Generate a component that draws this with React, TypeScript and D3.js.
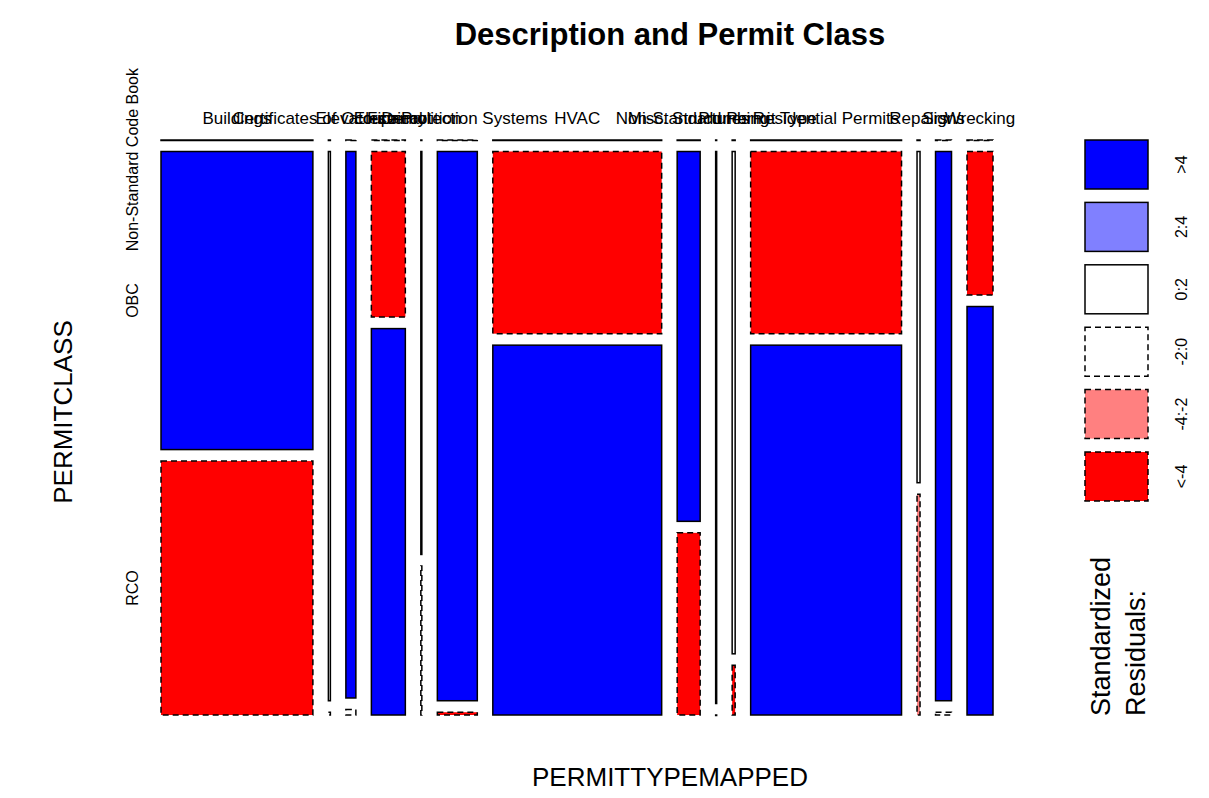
import * as d3 from 'd3';

const categories = [
  'Buildings', 'Certificates of Occupancy', 'Elevators', 'Electrical', 'Demolition',
  'Fire Protection Systems', 'HVAC', 'Misc. Structures', 'Non-Standard Permit Type',
  'Plumbing', 'Residential Permits', 'Repairs', 'Signs', 'Wrecking',
];
const classes = ['Non-Standard Code Book', 'OBC', 'RCO'];
const colTotals = [152, 2, 10, 34, 1, 40, 169, 23, 1, 3, 151, 3, 16, 26];
const nscbShare = [0, 0, 0, 0, 0, 0, 0, 0, 0, 0, 0, 0, 0, 0];
const obcShare = [0.54, 0.995, 0.99, 0.3, 0.73, 0.995, 0.33, 0.67, 1, 0.91, 0.33, 0.6, 0.995, 0.26];
const nscbRes = ['0:2', '0:2', '-2:0', '-2:0', '0:2', '-2:0', '0:2', '0:2', '-2:0', '0:2', '0:2', '0:2', '-2:0', '-2:0'];
const obcRes = ['>4', '0:2', '>4', '<-4', '0:2', '>4', '<-4', '>4', '0:2', '0:2', '<-4', '0:2', '>4', '<-4'];
const rcoRes = ['<-4', '-2:0', '-2:0', '>4', '-2:0', '<-4', '>4', '<-4', '-2:0', '<-4', '>4', '-4:-2', '-2:0', '>4'];
const legendKeys = ['>4', '2:4', '0:2', '-2:0', '-4:-2', '<-4'];

const fillOf: Record<string, string> = {
  '>4': '#0000FF', '2:4': '#8080FF', '0:2': '#FFFFFF', '-2:0': '#FFFFFF', '-4:-2': '#FF8080', '<-4': '#FF0000',
};
const dashed = (k: string) => k.startsWith('-') || k.startsWith('<');

export default function App() {
  const W = 1209, H = 798;
  const x0 = 161, x1 = 993, y0 = 140, y1 = 715;
  const gap = 15.5, vgap = 11.5;
  const total = d3.sum(colTotals);
  const px = d3.scaleLinear([0, total], [0, x1 - x0 - gap * (colTotals.length - 1)]);
  const ph = d3.scaleLinear([0, 1], [0, y1 - y0 - vgap * 2]);

  const cells: any[] = [];
  let cx = x0;
  colTotals.forEach((t, i) => {
    const w = px(t);
    const shares = [nscbShare[i], obcShare[i], 1 - obcShare[i] - nscbShare[i]];
    const res = [nscbRes[i], obcRes[i], rcoRes[i]];
    let cy = y0;
    shares.forEach((s, j) => {
      const h = ph(s);
      cells.push({ x: cx, y: cy, w, h, k: res[j], key: `${i}-${j}` });
      cy += h + vgap;
    });
    cells.push({ label: categories[i], x: cx + w / 2, key: `l${i}` });
    cx += w + gap;
  });

  const rowCenters = [y0, y0 + vgap + ph(nscbShare[0]) + ph(obcShare[0]) / 2,
    y0 + 2 * vgap + ph(obcShare[0]) + ph(1 - obcShare[0]) / 2];

  return (
    <svg width={W} height={H} style={{ position: 'absolute', left: 0, top: 0 }} fontFamily="Arial, Liberation Sans, sans-serif">
      <rect width={W} height={H} fill="white" />
      <text x={670} y={45} textAnchor="middle" fontSize={31} fontWeight="bold">Description and Permit Class</text>
      {cells.map(c => c.label ? (
        <text key={c.key} x={c.x} y={124} textAnchor="middle" fontSize={17}>{c.label}</text>
      ) : (
        <rect key={c.key} x={c.x} y={c.y} width={Math.max(c.w, 0.5)} height={Math.max(c.h, 0.5)}
          fill={fillOf[c.k]} stroke="black" strokeWidth={1.5}
          strokeDasharray={dashed(c.k) ? '6,4' : undefined} />
      ))}
      {classes.map((c, j) => (
        <text key={c} transform={`translate(138,${j === 0 ? 68 : rowCenters[j]}) rotate(-90)`}
          textAnchor={j === 0 ? 'end' : 'middle'} fontSize={16}>{c}</text>
      ))}
      <text x={670} y={786} textAnchor="middle" fontSize={26}>PERMITTYPEMAPPED</text>
      <text transform="translate(72,412) rotate(-90)" textAnchor="middle" fontSize={26}>PERMITCLASS</text>
      {legendKeys.map((k, i) => {
        const y = 140 + i * 62.4;
        return (
          <g key={k}>
            <rect x={1085} y={y} width={63} height={49} fill={fillOf[k]} stroke="black" strokeWidth={1.5}
              strokeDasharray={dashed(k) ? '6,4' : undefined} />
            <text transform={`translate(1187,${y + 24.5}) rotate(-90)`} textAnchor="middle" fontSize={16}>{k}</text>
          </g>
        );
      })}
      <text transform="translate(1110,716) rotate(-90)" fontSize={27}>Standardized</text>
      <text transform="translate(1145,716) rotate(-90)" fontSize={27}>Residuals:</text>
    </svg>
  );
}
